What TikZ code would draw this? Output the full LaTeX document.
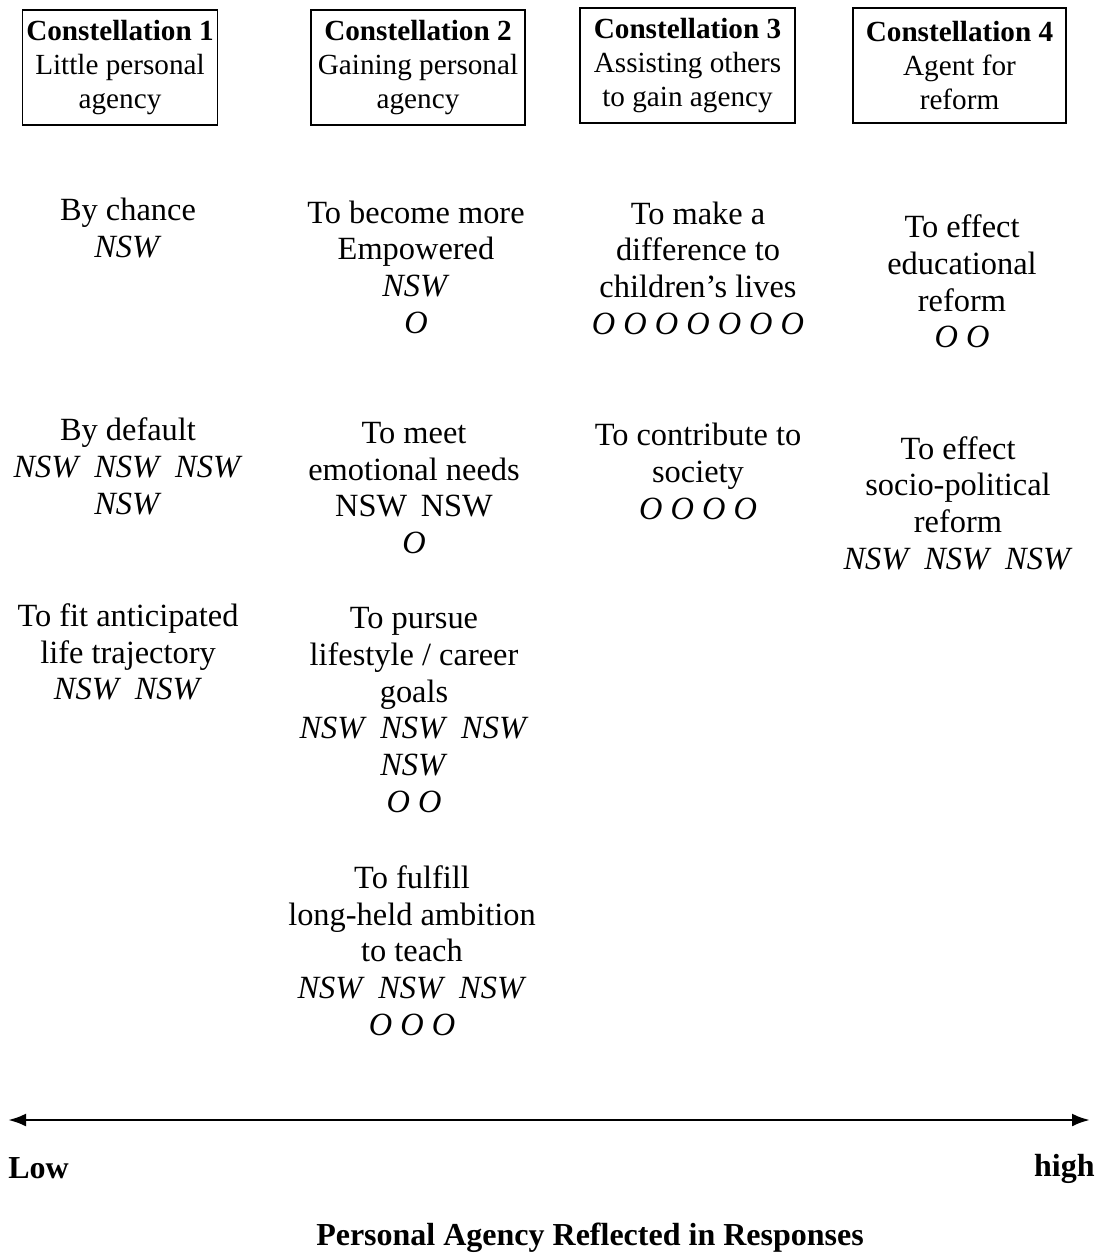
\documentclass[tikz,border=0pt]{standalone}
\usepackage{fontspec}
\setmainfont{Liberation Serif}
\usepackage{tikz}
\usetikzlibrary{arrows.meta,positioning}
\tikzset{
  constbox/.style={
    rectangle,
    draw=black,
    line width=0.8pt,
    align=center,
    minimum height=57.5pt,
    inner sep=2pt,
    font=\fontsize{14.6}{16.8}\selectfont
  },
  reasontext/.style={
    align=center,
    inner sep=0pt,
    font=\fontsize{16.2}{18.35}\selectfont
  },
  axislabel/.style={
    inner sep=0pt,
    font=\fontsize{16}{18.35}\selectfont\bfseries
  },
  agencyarrow/.style={
    {Latex[length=9pt,width=6.5pt]}-{Latex[length=9pt,width=6.5pt]},
    line width=1.4pt,
    draw=black
  }
}
\newcommand{\nsw}{\textit{NSW}}
\newcommand{\wgap}{\hspace{0.42em}}
\newcommand{\ogap}{\hspace{0.25em}}

\begin{document}
\begin{tikzpicture}[x=0.5pt, y=-0.5pt]
\useasboundingbox (0,0) rectangle (1101,1258);

% constellation headers
\node[constbox, minimum width=97pt] (const1) at (120,67.5) {\textbf{Constellation 1}\\Little personal\\agency};
\node[constbox, minimum width=107pt] (const2) at (418,67.5) {\textbf{Constellation 2}\\Gaining personal\\agency};
\node[constbox, minimum width=107.5pt] (const3) at (687.5,65.5) {\textbf{Constellation 3}\\Assisting others\\to gain agency};
\node[constbox, minimum width=106.5pt] (const4) at (959.5,65.5) {\textbf{Constellation 4}\\Agent for\\reform};

% column 1
\node[reasontext] (chance) at (128,228) {By chance\\\nsw};
\node[reasontext] (default) at (128,466.5) {By default\\\nsw\wgap\nsw\wgap\nsw\\\nsw};
\node[reasontext] (trajectory) at (128,652) {To fit anticipated\\life trajectory\\\nsw\wgap\nsw};

% column 2
\node[reasontext] (empowered) at (416,267) {To become more\\Empowered\\\nsw\\\textit{O}};
\node[reasontext] (emotional) at (414,488) {To meet\\emotional needs\\NSW\wgap NSW\\\textit{O}};
\node[reasontext] (lifestyle) at (414,710) {To pursue\\lifestyle / career\\goals\\\nsw\wgap\nsw\wgap\nsw\\\nsw\\\textit{O\ogap O}};
\node[reasontext] (ambition) at (412,950.5) {To fulfill\\long-held ambition\\to teach\\\nsw\wgap\nsw\wgap\nsw\\\textit{O\ogap O\ogap O}};

% column 3
\node[reasontext] (children) at (698,268) {To make a\\difference to\\children's lives\\\textit{O\ogap O\ogap O\ogap O\ogap O\ogap O\ogap O}};
\node[reasontext] (society) at (698,471.5) {To contribute to\\society\\\textit{O\ogap O\ogap O\ogap O}};

% column 4
\node[reasontext] (educational) at (962,281.5) {To effect\\educational\\reform\\\textit{O\ogap O}};
\node[reasontext] (political) at (958,503) {To effect\\socio-political\\reform\\\nsw\wgap\nsw\wgap\nsw};

% agency axis
\coordinate (lowend) at (8,1120);
\coordinate (highend) at (1090,1120);
\draw[agencyarrow] (lowend) -- (highend);
\node[axislabel, anchor=west] (low) at (8,1168) {Low};
\node[axislabel, anchor=east] (high) at (1095,1169) {high};
\node[axislabel] (axistitle) at (590,1238) {Personal Agency Reflected in Responses};
\end{tikzpicture}
\end{document}
